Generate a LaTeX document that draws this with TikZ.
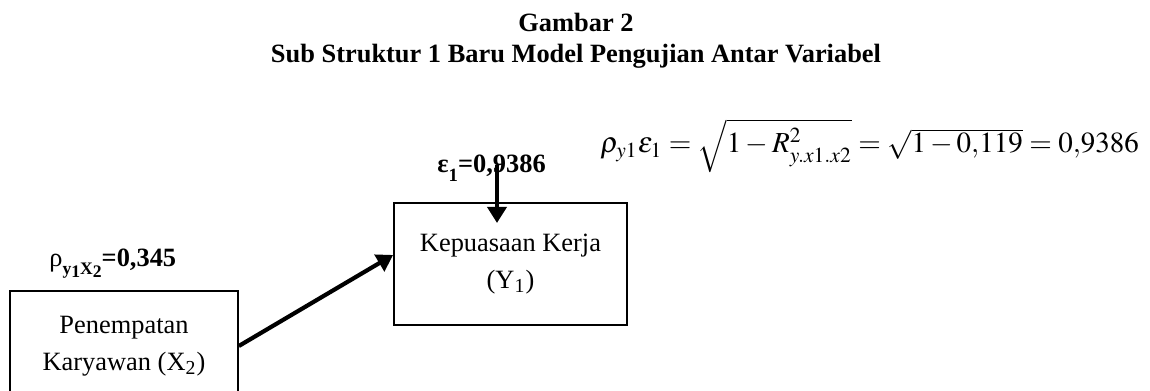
\documentclass[tikz,border=0pt]{standalone}
\usepackage{mathptmx}
\usepackage[no-math]{fontspec}
\setmainfont{Liberation Serif}
\usetikzlibrary{arrows.meta}
\newcommand\lowr[2][1.5pt]{\raisebox{-#1}{#2}}
\begin{document}
\begin{tikzpicture}[x=0.4545pt,y=-0.4545pt,
  box/.style={draw,line width=0.8pt,inner sep=0pt,align=center,
    font=\fontsize{12}{16.8}\selectfont},
  lbl/.style={inner sep=0pt,font=\fontsize{12}{14}\selectfont\bfseries},
  arr/.style={line width=1.9pt,-{Triangle[length=7.3pt,width=8.6pt]}}]
\useasboundingbox (0,0) rectangle (1150,391);
\clip (0,0) rectangle (1150,391);
% title
\node[lbl,anchor=base] (t1) at (576,32) {Gambar 2};
\node[lbl,anchor=base] (t2) at (576,63) {Sub Struktur 1 Baru Model Pengujian Antar Variabel};
% formula
\node[anchor=base west,inner sep=0pt,font=\fontsize{13.2}{15}\selectfont] (f) at (600,153)
  {$\rho_{y1}\varepsilon_1 = \sqrt{1-R^2_{y.x1.x2}} = \sqrt{1-0{,}119} = 0{,}9386$};
% boxes
\node[box,minimum width=103.6pt,minimum height=50pt] (X) at (124,346)
  {Penempatan\\Karyawan (X\textsubscript{2})};
\node[box,minimum width=105.9pt,minimum height=55.5pt] (Y) at (510.5,264)
  {Kepuasaan Kerja\\(Y\textsubscript{1})};
% labels
\node[lbl,anchor=base west] (el) at (437,173)
  {ε\lowr[4pt]{\fontsize{8.5}{8.5}\selectfont 1}=0,9386};
\node[lbl,anchor=base west] (rl) at (49,267)
  {{\mdseries ρ}\raisebox{-3.5pt}{\fontsize{8}{8}\selectfont y\lowr{1}X\lowr{2}}=0,345};
% arrows
\coordinate (e1) at (497,165);
\coordinate (e1tip) at (497,223);
\draw[arr] (e1) -- (e1tip);
\draw[arr] (X.east) -- ([yshift=4.1pt]Y.west);
\end{tikzpicture}
\end{document}
